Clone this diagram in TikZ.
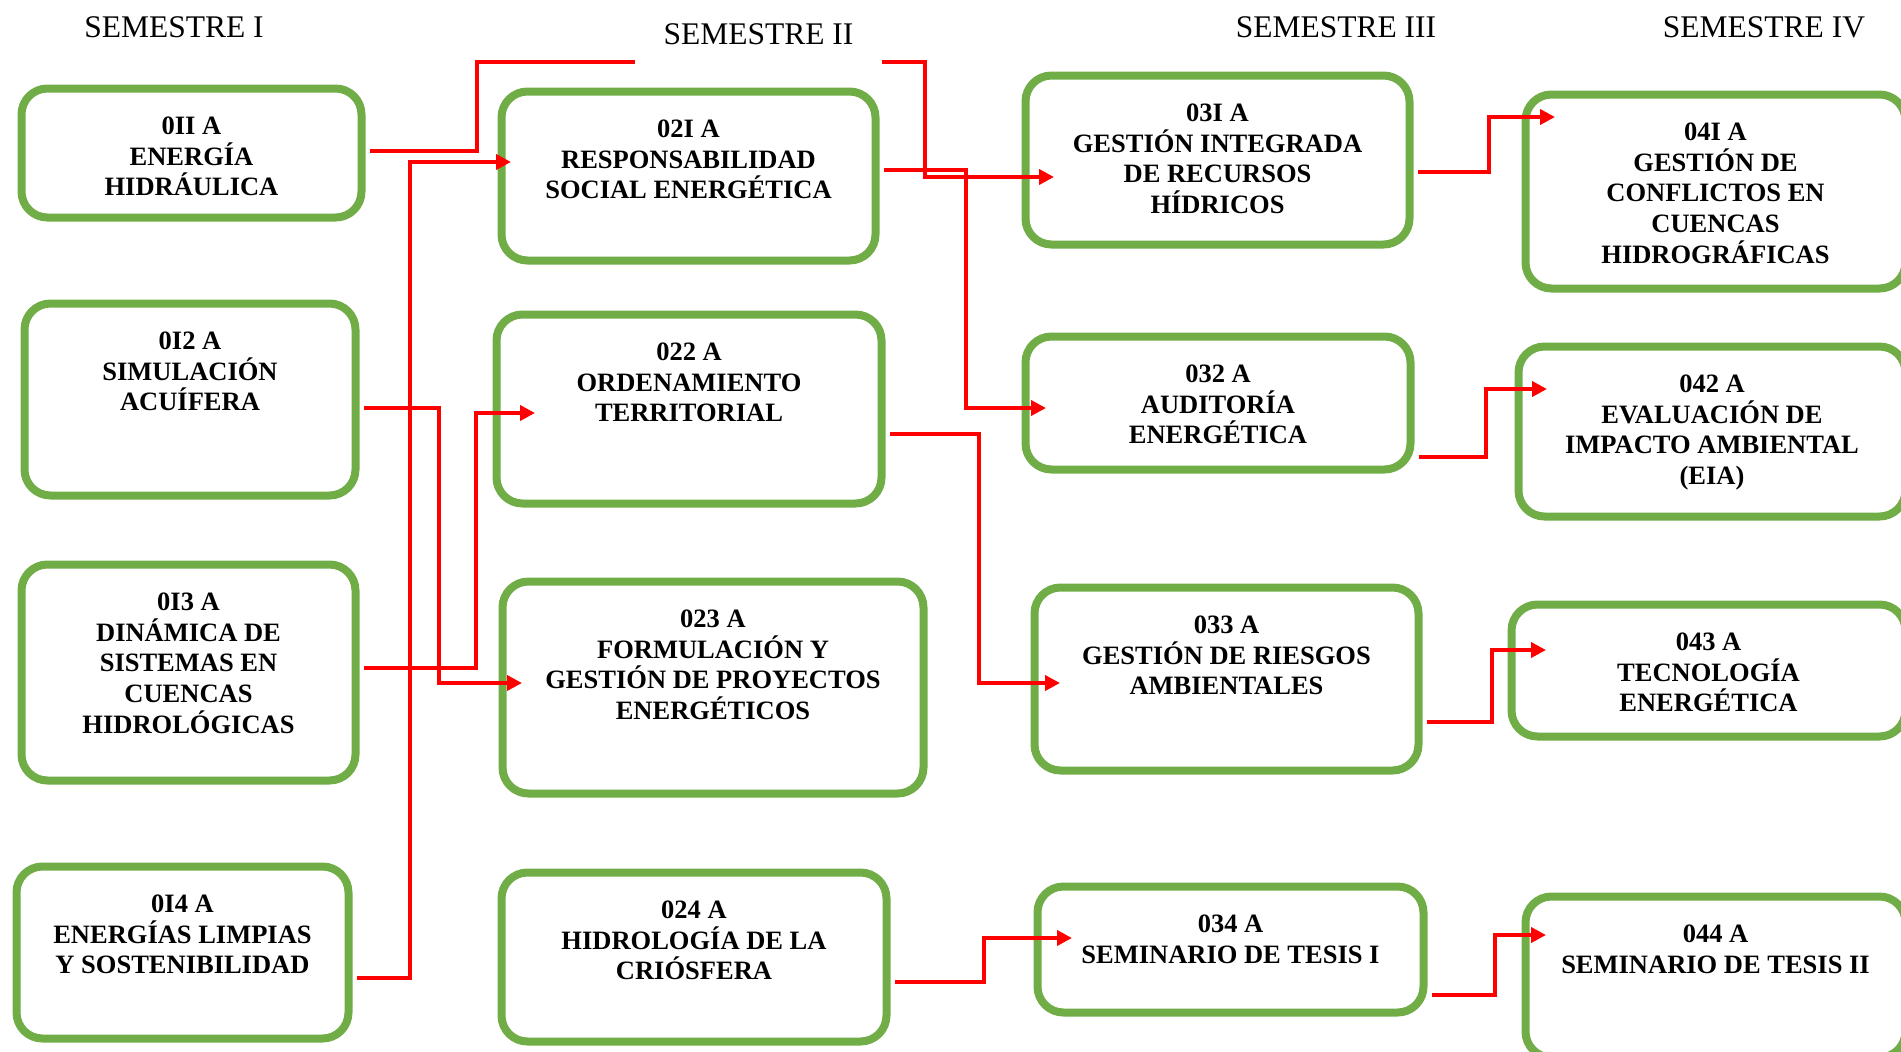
\documentclass[tikz,border=0pt]{standalone}
\usepackage{fontspec}
\setmainfont{Liberation Serif}
\usetikzlibrary{arrows.meta,calc,positioning}
\definecolor{boxgreen}{HTML}{70AD47}

\begin{document}
\begin{tikzpicture}[x=0.5pt,y=-0.5pt,>={Triangle[length=7.5pt,width=7.5pt]},
  course/.style={draw=boxgreen,line width=4pt,rounded corners=13pt,fill=white,inner sep=0pt},
  ctext/.style={anchor=north,align=center,inner sep=0pt,font=\fontsize{13.25pt}{15.35pt}\selectfont\bfseries},
  sem/.style={inner sep=0pt,font=\fontsize{15.75pt}{18pt}\selectfont},
  link/.style={->,draw=red,line width=2pt}]
\useasboundingbox (0,0) rectangle (1901,1051);
\clip (0,0) rectangle (1901,1051);
% courses: name/x/y/width/height/text
\foreach \nm/\x/\y/\w/\h/\txt in {
  c11/191.5/153/340/129/{0II A\\ENERGÍA\\HIDRÁULICA},
  c12/190/399.5/331/192/{0I2 A\\SIMULACIÓN\\ACUÍFERA},
  c13/188.5/672.5/334/216/{0I3 A\\DINÁMICA DE\\SISTEMAS EN\\CUENCAS\\HIDROLÓGICAS},
  c14/182.5/952.5/332/172/{0I4 A\\ENERGÍAS LIMPIAS\\Y SOSTENIBILIDAD},
  c21/688.5/176/374/169/{02I A\\RESPONSABILIDAD\\SOCIAL ENERGÉTICA},
  c22/689/409/385/189/{022 A\\ORDENAMIENTO\\TERRITORIAL},
  c23/713/687.5/421/212/{023 A\\FORMULACIÓN Y\\GESTIÓN DE PROYECTOS\\ENERGÉTICOS},
  c24/694/957/385/169/{024 A\\HIDROLOGÍA DE LA\\CRIÓSFERA},
  c31/1217.5/160/384/169/{03I A\\GESTIÓN INTEGRADA\\DE RECURSOS\\HÍDRICOS},
  c32/1218/403/385/133/{032 A\\AUDITORÍA\\ENERGÉTICA},
  c33/1226.5/679/384/183/{033 A\\GESTIÓN DE RIESGOS\\AMBIENTALES},
  c34/1230.5/949.5/386/126/{034 A\\SEMINARIO DE TESIS I},
  c41/1715.5/191.5/380/194/{04I A\\GESTIÓN DE\\CONFLICTOS EN\\CUENCAS\\HIDROGRÁFICAS},
  c42/1712/431.5/387/170/{042 A\\EVALUACIÓN DE\\IMPACTO AMBIENTAL\\(EIA)},
  c43/1708.5/670.5/394/132/{043 A\\TECNOLOGÍA\\ENERGÉTICA},
  c44/1715.5/977/380/161/{044 A\\SEMINARIO DE TESIS II}} {
  \node[course,minimum width=\w*0.5pt,minimum height=\h*0.5pt] (\nm) at (\x,\y) {};
  \node[ctext] (\nm-t) at ($(\nm.north)+(0,32)$) {\txt};
}
% prerequisites
\draw[link] ($(c11.east)+(4.5,-2)$) -- ++(107,0) |- ++(448,-89) |- ($(c31.west)+(32.5,17)$);
\foreach \a/\sy/\dx/\b/\ex/\ey in {
  c14/25.5/53/c21/13.5/-14,
  c12/8.5/75/c23/23.5/-4.5,
  c13/-4.5/112/c22/42.5/4,
  c21/-6/82/c32/24.5/5,
  c22/25/89/c33/29.5/4,
  c24/25/89/c34/38.5/-11.5,
  c31/12/71/c41/33.5/-74.5,
  c32/54/67/c42/32.5/-42.5,
  c33/43/65/c43/38.5/-20.5,
  c34/45.5/63/c44/24.5/-42}
  \draw[link] ($(\a.east)+(4.5,\sy)$) -- ++(\dx,0) |- ($(\b.west)+(\ex,\ey)$);
% semester titles
\node[sem] (s1) at (174,27.5) {SEMESTRE I};
\node[sem,fill=white,minimum width=123.5pt,minimum height=34pt] (s2) at (758.5,34) {SEMESTRE II};
\node[sem] (s3) at (1336,27.5) {SEMESTRE III};
\node[sem] (s4) at (1764,27.5) {SEMESTRE IV};
\end{tikzpicture}
\end{document}
